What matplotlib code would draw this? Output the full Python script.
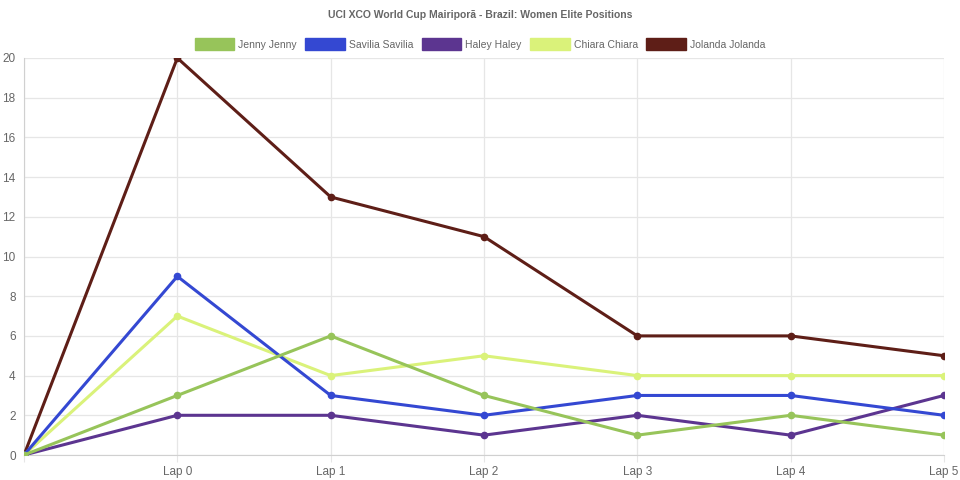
import matplotlib.pyplot as plt
from matplotlib.patches import Patch

plt.rcParams["font.family"] = ["Liberation Sans", "DejaVu Sans"]

# x categories (first one is blank in the chart)
labels = ["", "Lap 0", "Lap 1", "Lap 2", "Lap 3", "Lap 4", "Lap 5"]

riders = ["Jenny Jenny", "Savilia Savilia", "Haley Haley", "Chiara Chiara", "Jolanda Jolanda"]
jenny = [0, 3, 6, 3, 1, 2, 1]
savilia = [0, 9, 3, 2, 3, 3, 2]
haley = [0, 2, 2, 1, 2, 1, 3]
chiara = [0, 7, 4, 5, 4, 4, 4]
jolanda = [0, 20, 13, 11, 6, 6, 5]
colors = ["#97c45a", "#3448d2", "#5c3590", "#daf27a", "#5e1e17"]

series = [jenny, savilia, haley, chiara, jolanda]

fig = plt.figure(figsize=(9.6, 4.8), dpi=100)
ax = fig.add_axes([24 / 960, 1 - 455 / 480, 920 / 960, 397 / 480])

x = list(range(len(labels)))
for i, (vals, c) in enumerate(zip(series, colors)):
    # first dataset drawn on top, like the original
    ax.plot(x, vals, color=c, lw=2.2, marker="o", ms=4.5, zorder=10 - i)

ax.set_xlim(0, len(labels) - 1)
ax.set_ylim(0, 20)
ax.set_yticks(range(0, 21, 2))
ax.set_xticks(x)
ax.set_xticklabels(labels)
ax.grid(True, color="#e6e6e6", lw=0.9)
ax.set_axisbelow(True)
for s in ["top", "right"]:
    ax.spines[s].set_visible(False)
for s in ["left", "bottom"]:
    ax.spines[s].set_color("#d0d0d0")
ax.tick_params(axis="x", colors="#e6e6e6", labelcolor="#666666", labelsize=8.5, length=5, pad=3)
ax.tick_params(axis="y", colors="#e6e6e6", labelcolor="#666666", labelsize=8.5, length=0, pad=6)

fig.text(0.5, 1 - 15 / 480, "UCI XCO World Cup Mairiporã - Brazil: Women Elite Positions",
         ha="center", va="center", fontsize=7.5, fontweight="bold", color="#666666")

handles = [Patch(facecolor=c, edgecolor=c, label=n) for n, c in zip(riders, colors)]
fig.legend(handles=handles, loc="center", bbox_to_anchor=(0.5, 1 - 44 / 480), ncol=5,
           frameon=False, fontsize=7.5, labelcolor="#666666", handlelength=3.8,
           handleheight=1.25, columnspacing=0.8, handletextpad=0.4)

fig.savefig("out.png", dpi=100)
